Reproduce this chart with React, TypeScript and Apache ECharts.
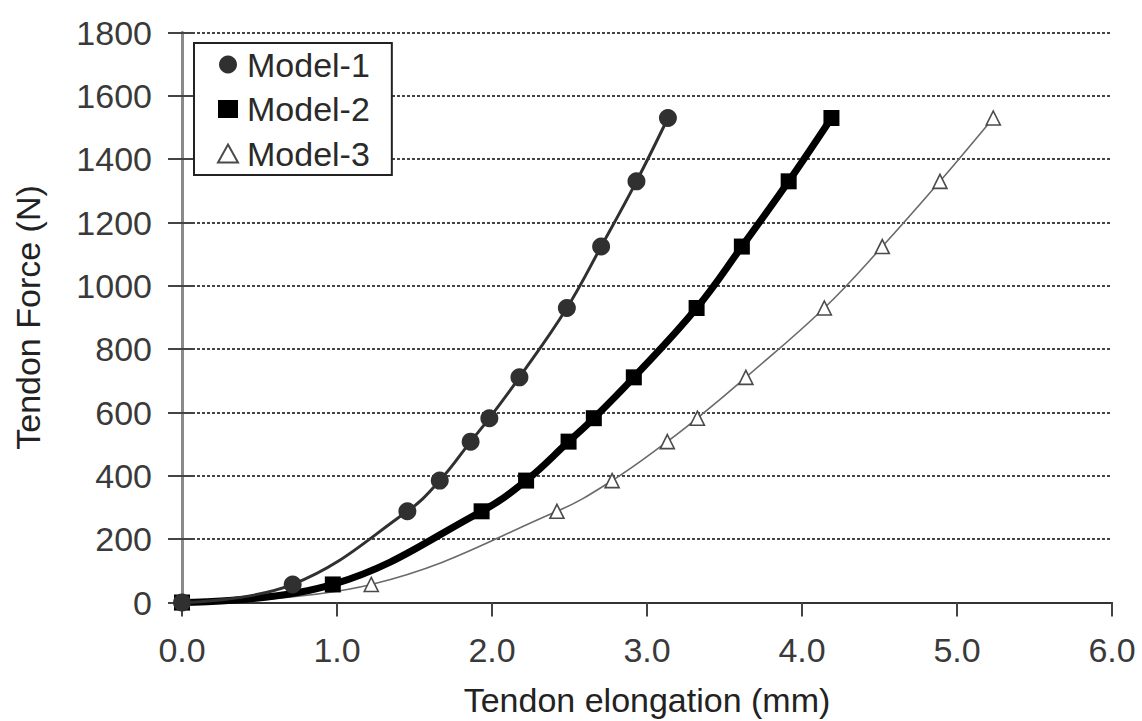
import React, { useEffect, useRef } from "react";
import * as echarts from "echarts";

// Applied load steps (N), shared by all three models
const forceSteps = [0, 57, 288, 385, 508, 582, 711, 930, 1124, 1330, 1530];

// Tendon elongation (mm) at each load step
const model1Elong = [0, 0.714, 1.454, 1.663, 1.862, 1.983, 2.177, 2.483, 2.704, 2.932, 3.135];
const model2Elong = [0, 0.973, 1.933, 2.22, 2.494, 2.657, 2.915, 3.32, 3.612, 3.914, 4.19];
const model3Elong = [0, 1.221, 2.419, 2.775, 3.131, 3.325, 3.638, 4.144, 4.518, 4.89, 5.234];

const seriesNames = ["Model-1", "Model-2", "Model-3"];

const xTickMin = 0;
const xTickMax = 6;
const xTickStep = 1;
const yTickMin = 0;
const yTickMax = 1800;
const yTickStep = 200;

const FONT = "'Liberation Sans', Arial, sans-serif";

const pairs = (xs: number[], ys: number[]) => xs.map((x, i) => [x, ys[i]]);

export default function App() {
  const ref = useRef<HTMLDivElement>(null);

  useEffect(() => {
    if (!ref.current) return;
    const chart = echarts.init(ref.current, undefined, { renderer: "svg" });

    const hiddenAxisParts = {
      axisLabel: { show: false },
      splitLine: { show: false },
    };

    chart.setOption({
      animation: false,
      backgroundColor: "#ffffff",
      textStyle: { fontFamily: FONT },
      grid: {
        left: 182,
        right: 30,
        top: 32.5,
        bottom: 118.5,
        containLabel: false,
        outerBoundsMode: "none",
      },
      legend: {
        orient: "vertical",
        left: 194,
        top: 43,
        padding: [4.5, 22, 4.5, 23],
        itemGap: 10.5,
        itemWidth: 20,
        itemHeight: 18,
        backgroundColor: "#ffffff",
        borderColor: "#222222",
        borderWidth: 2,
        textStyle: {
          fontFamily: FONT,
          fontSize: 34,
          lineHeight: 34,
          color: "#2a2a2a",
          padding: [0, 0, 0, 4],
        },
        data: [
          { name: seriesNames[0], icon: "circle" },
          { name: seriesNames[1], icon: "rect" },
          { name: seriesNames[2], icon: "triangle" },
        ],
      },
      xAxis: [
        {
          type: "value",
          min: xTickMin,
          max: xTickMax,
          interval: xTickStep,
          name: "Tendon elongation (mm)",
          nameLocation: "middle",
          nameGap: 80,
          nameTextStyle: { fontFamily: FONT, fontSize: 34, color: "#222222" },
          axisLine: { show: true, lineStyle: { color: "#333333", width: 2 } },
          axisTick: { show: true, inside: false, length: 14, lineStyle: { color: "#444444", width: 2 } },
          axisLabel: {
            margin: 30,
            fontFamily: FONT,
            fontSize: 34,
            color: "#3a3a3a",
            formatter: (v: number) => v.toFixed(1),
          },
          splitLine: { show: false },
        },
        {
          // top frame of the plot area
          type: "value",
          position: "top",
          min: xTickMin,
          max: xTickMax,
          interval: xTickStep,
          axisLine: { show: true, lineStyle: { color: "#333333", width: 2 } },
          axisTick: { show: false },
          ...hiddenAxisParts,
        },
      ],
      yAxis: [
        {
          type: "value",
          min: yTickMin,
          max: yTickMax,
          interval: yTickStep,
          name: "Tendon Force (N)",
          nameLocation: "middle",
          nameGap: 137,
          nameTextStyle: { fontFamily: FONT, fontSize: 34, color: "#222222" },
          axisLine: { show: true, lineStyle: { color: "#333333", width: 2 } },
          axisTick: { show: true, inside: false, length: 14, lineStyle: { color: "#444444", width: 2 } },
          axisLabel: {
            margin: 30,
            fontFamily: FONT,
            fontSize: 34,
            color: "#3a3a3a",
            formatter: (v: number) => String(v),
          },
          splitLine: {
            show: true,
            lineStyle: { color: "#444444", width: 2, type: [3, 2] },
          },
        },
        {
          // right frame of the plot area
          type: "value",
          position: "right",
          min: yTickMin,
          max: yTickMax,
          interval: yTickStep,
          axisLine: { show: true, lineStyle: { color: "#8a8a8a", width: 3 } },
          axisTick: { show: false },
          ...hiddenAxisParts,
        },
        {
          // inner half of the cross tick marks on the force axis
          type: "value",
          position: "left",
          min: yTickMin,
          max: yTickMax,
          interval: yTickStep,
          axisLine: { show: false },
          axisTick: { show: true, inside: true, length: 13, lineStyle: { color: "#444444", width: 2 } },
          ...hiddenAxisParts,
        },
      ],
      series: [
        {
          name: seriesNames[2],
          type: "line",
          data: pairs(model3Elong, forceSteps),
          smooth: 0.4,
          symbol: "triangle",
          symbolSize: 14,
          lineStyle: { color: "#6a6a6a", width: 1.6 },
          itemStyle: { color: "#ffffff", borderColor: "#4a4a4a", borderWidth: 1.6 },
          z: 2,
        },
        {
          name: seriesNames[1],
          type: "line",
          data: pairs(model2Elong, forceSteps),
          smooth: 0.4,
          symbol: "rect",
          symbolSize: 16,
          lineStyle: { color: "#000000", width: 7 },
          itemStyle: { color: "#000000" },
          z: 3,
        },
        {
          name: seriesNames[0],
          type: "line",
          data: pairs(model1Elong, forceSteps),
          smooth: 0.4,
          symbol: "circle",
          symbolSize: 18,
          lineStyle: { color: "#303030", width: 3 },
          itemStyle: { color: "#303030" },
          z: 4,
        },
      ],
    });

    return () => chart.dispose();
  }, []);

  return (
    <div
      ref={ref}
      style={{ position: "fixed", left: 0, top: 0, width: 1142, height: 721, background: "#ffffff" }}
    />
  );
}
